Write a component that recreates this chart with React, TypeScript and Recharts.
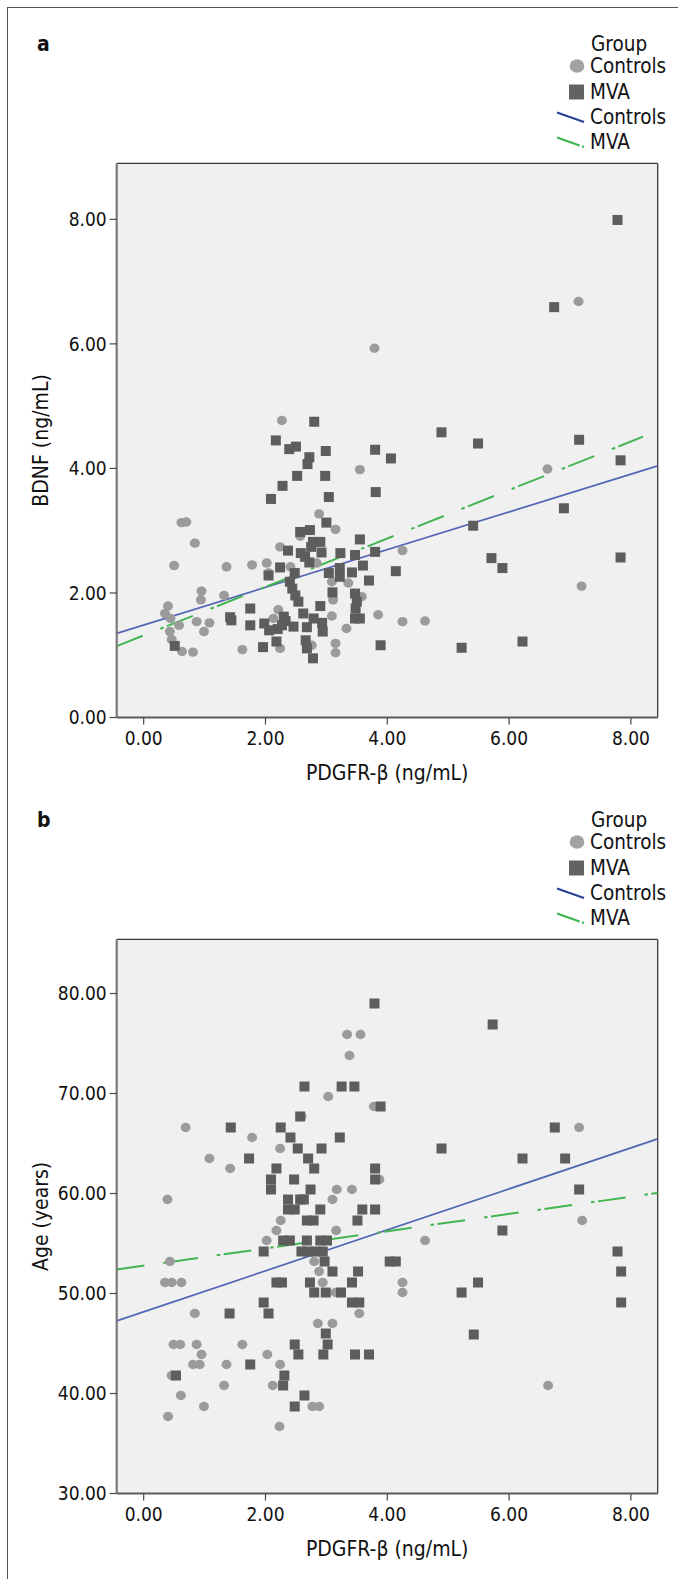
import React from 'react';
import { ScatterChart, Scatter, XAxis, YAxis, CartesianGrid, ReferenceLine } from 'recharts';

const FONT = "'Liberation Sans Narrow', 'Arial Narrow', 'DejaVu Sans Condensed', 'Liberation Sans', sans-serif";

// ---- axes ----
const xTicks = [0, 2, 4, 6, 8];
const xDomain: [number, number] = [-0.443, 8.44];
const bdnfTicks = [0, 2, 4, 6, 8];
const bdnfDomain: [number, number] = [0, 8.9];
const ageTicks = [30, 40, 50, 60, 70, 80];
const ageDomain: [number, number] = [30, 85.42];

// ---- panel a: PDGFR-beta vs BDNF ----
const controlsBDNF: [number, number][] = [
  [2.27, 4.77], [3.55, 3.98], [0.62, 3.13], [0.70, 3.14], [0.84, 2.80], [2.88, 3.27], [3.15, 3.02],
  [0.50, 2.44], [1.36, 2.42], [1.78, 2.45], [2.02, 2.48], [2.24, 2.74], [2.41, 2.42], [2.57, 2.91],
  [2.84, 2.48], [0.95, 2.03], [0.94, 1.89], [1.32, 1.96], [0.40, 1.79], [0.35, 1.67], [0.44, 1.59],
  [0.58, 1.48], [0.87, 1.54], [1.08, 1.52], [0.99, 1.38], [0.43, 1.38], [0.46, 1.25], [0.63, 1.06],
  [0.81, 1.05], [1.62, 1.09], [2.24, 1.11], [2.13, 1.59], [2.21, 1.73], [2.05, 2.32], [2.76, 1.16],
  [3.09, 2.18], [3.11, 1.89], [3.33, 1.43], [3.36, 2.16], [3.58, 1.94], [3.15, 1.19], [3.15, 1.04],
  [3.09, 1.63], [3.85, 1.65], [4.25, 2.68], [4.25, 1.54], [4.62, 1.55], [6.63, 3.99], [7.19, 2.11],
  [3.79, 5.93], [7.14, 6.68],
];
const mvaBDNF: [number, number][] = [
  [7.78, 7.99], [6.74, 6.59], [4.89, 4.58], [5.49, 4.40], [3.80, 4.30], [4.06, 4.16], [7.15, 4.46],
  [7.83, 4.13], [3.81, 3.62], [6.90, 3.36], [5.41, 3.08], [3.55, 2.86], [3.80, 2.66], [3.60, 2.44],
  [4.14, 2.35], [3.70, 2.20], [5.71, 2.56], [5.89, 2.40], [7.83, 2.57], [3.55, 1.59], [3.89, 1.16],
  [5.22, 1.12], [6.22, 1.22], [2.80, 4.75], [2.17, 4.45], [2.39, 4.31], [2.50, 4.35], [2.99, 4.28],
  [2.72, 4.18], [2.69, 4.07], [2.52, 3.88], [2.98, 3.88], [2.28, 3.72], [2.09, 3.51], [3.04, 3.54],
  [3.00, 3.13], [2.57, 2.98], [2.73, 3.01], [2.78, 2.82], [2.90, 2.82], [2.75, 2.74], [2.37, 2.68],
  [2.58, 2.64], [2.92, 2.65], [2.65, 2.58], [2.72, 2.49], [3.23, 2.64], [3.47, 2.61], [3.04, 2.32],
  [3.22, 2.40], [3.42, 2.33], [3.22, 2.26], [2.05, 2.28], [2.24, 2.41], [2.48, 2.32], [2.40, 2.18],
  [2.44, 2.07], [2.49, 1.96], [2.54, 1.86], [3.10, 2.01], [3.47, 1.99], [3.50, 1.86], [3.48, 1.75],
  [2.90, 1.79], [2.62, 1.67], [3.47, 1.59], [1.75, 1.75], [1.42, 1.61], [1.44, 1.56], [1.75, 1.48],
  [1.98, 1.51], [2.06, 1.40], [2.20, 1.42], [2.27, 1.48], [2.33, 1.55], [2.30, 1.62], [2.46, 1.46],
  [2.68, 1.45], [2.79, 1.59], [2.93, 1.52], [2.94, 1.38], [2.18, 1.22], [1.96, 1.13], [2.66, 1.24],
  [2.68, 1.11], [2.78, 0.95], [0.51, 1.15],
];
const fitControlsBDNF: [number, number][] = [[-0.443, 1.35], [8.44, 4.04]];
const fitMvaBDNF: [number, number][] = [[-0.443, 1.146], [8.2, 4.51]];

// ---- panel b: PDGFR-beta vs Age ----
const controlsAge: [number, number][] = [
  [3.34, 75.9], [3.56, 75.9], [3.38, 73.8], [3.03, 69.7], [3.78, 68.7], [2.59, 67.7], [0.69, 66.6],
  [1.78, 65.6], [2.24, 64.5], [1.08, 63.5], [1.42, 62.5], [0.39, 59.4], [3.17, 60.4], [3.42, 60.4],
  [3.10, 59.4], [3.87, 61.4], [2.25, 57.3], [2.18, 56.3], [3.16, 56.3], [2.02, 55.3], [0.43, 53.2],
  [2.80, 53.2], [2.88, 52.2], [0.35, 51.1], [0.46, 51.1], [0.62, 51.1], [2.94, 51.1], [3.15, 50.1],
  [0.84, 48.0], [3.54, 48.0], [2.86, 47.0], [3.10, 47.0], [0.49, 44.9], [0.60, 44.9], [0.87, 44.9],
  [1.62, 44.9], [0.95, 43.9], [2.03, 43.9], [0.81, 42.9], [0.92, 42.9], [1.36, 42.9], [2.24, 42.9],
  [0.46, 41.8], [1.32, 40.8], [2.12, 40.8], [0.61, 39.8], [0.99, 38.7], [2.77, 38.7], [2.88, 38.7],
  [0.40, 37.7], [2.23, 36.7], [7.15, 66.6], [7.20, 57.3], [4.62, 55.3], [4.25, 51.1], [4.25, 50.1],
  [6.64, 40.8],
];
const mvaAge: [number, number][] = [
  [3.79, 79.0], [2.64, 70.7], [3.25, 70.7], [3.46, 70.7], [3.89, 68.7], [2.57, 67.7], [1.43, 66.6],
  [2.25, 66.6], [2.41, 65.6], [1.73, 63.5], [2.53, 64.5], [2.70, 63.5], [2.92, 64.5], [3.22, 65.6],
  [2.18, 62.5], [2.80, 62.5], [2.09, 61.4], [2.47, 61.4], [2.09, 60.4], [2.74, 60.4], [3.80, 62.5],
  [3.80, 61.4], [2.37, 59.4], [2.57, 59.4], [2.63, 59.4], [2.37, 58.4], [2.48, 58.4], [2.90, 58.4],
  [3.59, 58.4], [3.80, 58.4], [2.68, 57.3], [2.79, 57.3], [3.51, 57.3], [2.29, 55.3], [2.40, 55.3],
  [2.68, 55.3], [2.90, 55.3], [3.01, 55.3], [1.97, 54.2], [2.59, 54.2], [2.70, 54.2], [2.83, 54.2],
  [2.94, 54.2], [2.97, 53.2], [3.10, 52.2], [3.52, 52.2], [2.18, 51.1], [2.27, 51.1], [2.73, 51.1],
  [3.42, 51.1], [2.80, 50.1], [2.99, 50.1], [3.24, 50.1], [1.97, 49.1], [3.42, 49.1], [3.54, 49.1],
  [1.41, 48.0], [2.05, 48.0], [2.99, 46.0], [2.48, 44.9], [3.02, 44.9], [2.54, 43.9], [2.95, 43.9],
  [3.47, 43.9], [3.70, 43.9], [1.75, 42.9], [0.53, 41.8], [2.31, 41.8], [2.29, 40.8], [2.64, 39.8],
  [2.48, 38.7], [5.73, 76.9], [6.75, 66.6], [4.89, 64.5], [6.22, 63.5], [6.92, 63.5], [7.15, 60.4],
  [5.89, 56.3], [7.78, 54.2], [4.04, 53.2], [4.14, 53.2], [7.84, 52.2], [5.49, 51.1], [5.22, 50.1],
  [7.84, 49.1], [5.42, 45.9],
];
const fitControlsAge: [number, number][] = [[-0.443, 47.26], [8.44, 65.46]];
const fitMvaAge: [number, number][] = [[-0.443, 52.4], [8.44, 60.06]];

// ---- styles ----
const CIRCLE_FILL = '#9b9b9b';
const SQUARE_FILL = '#5d5d5d';
const BLUE = '#5166b4';
const GREEN = '#43b552';
const GREEN_DASH = '28 19 3.5 3.5';

const toPts = (arr: [number, number][]) => arr.map(([x, y]) => ({ x, y }));
const fmt = (v: number) => v.toFixed(2);

const CircleDot = (p: any) => <ellipse cx={p.cx} cy={p.cy} rx={5} ry={4.7} fill={CIRCLE_FILL} />;
const SquareDot = (p: any) => <rect x={p.cx - 5} y={p.cy - 5} width={10} height={10} fill={SQUARE_FILL} />;

const CHART_W = 678;
const CHART_H = 790;
const MARGIN = { top: 163.3, right: 20.3, left: 0, bottom: 2.5 };

function Legend({ letter }: { letter: string }) {
  const t = { fontFamily: FONT, fontSize: 20.5, fill: '#111' } as const;
  return (
    <svg width={678} height={160} style={{ position: 'absolute', left: 0, top: 0 }}>
      <text x={37} y={51} style={{ ...t, fontWeight: 700, fontSize: 21 }}>{letter}</text>
      <text x={591} y={43.5} dominantBaseline="central" style={t}>Group</text>
      <ellipse cx={577} cy={66} rx={7.3} ry={6.8} fill="#a2a2a2" />
      <text x={590} y={66} dominantBaseline="central" style={t}>Controls</text>
      <rect x={569} y={84.5} width={15} height={15} fill="#626262" />
      <text x={590} y={92} dominantBaseline="central" style={t}>MVA</text>
      <line x1={557} y1={112.5} x2={584} y2={122} stroke="#2b3f95" strokeWidth={2} />
      <text x={590} y={117} dominantBaseline="central" style={t}>Controls</text>
      <line x1={557} y1={137.5} x2={584} y2={147} stroke="#3cb54a" strokeWidth={2} strokeDasharray="24 2.5 2.5 20" />
      <text x={590} y={142} dominantBaseline="central" style={t}>MVA</text>
    </svg>
  );
}

type PanelProps = {
  top: number;
  letter: string;
  yLabel: string;
  yDomain: [number, number];
  yTicks: number[];
  controls: [number, number][];
  mva: [number, number][];
  fitC: [number, number][];
  fitM: [number, number][];
};

function Panel({ top, letter, yLabel, yDomain, yTicks, controls, mva, fitC, fitM }: PanelProps) {
  const tickStyle = { fontFamily: FONT, fontSize: 19, fill: '#111' };
  const labelStyle = { fontFamily: FONT, fontSize: 21, fill: '#111' };
  return (
    <div style={{ position: 'absolute', left: 0, top, width: CHART_W, height: CHART_H }}>
      <ScatterChart width={CHART_W} height={CHART_H} margin={MARGIN}>
        <CartesianGrid fill="#f0f0f0" fillOpacity={1} stroke="none" horizontal={false} vertical={false} />
        <XAxis
          type="number"
          dataKey="x"
          domain={xDomain}
          ticks={xTicks}
          allowDataOverflow
          tickFormatter={fmt}
          height={70}
          tickSize={7}
          tickMargin={7}
          tick={tickStyle}
          axisLine={{ stroke: '#5a5a5a', strokeWidth: 2 }}
          tickLine={{ stroke: '#444', strokeWidth: 1.2 }}
          label={{ value: 'PDGFR-β (ng/mL)', position: 'center', dy: 20, style: labelStyle }}
        />
        <YAxis
          type="number"
          dataKey="y"
          domain={yDomain}
          ticks={yTicks}
          allowDataOverflow
          tickFormatter={fmt}
          width={116.7}
          tickSize={7}
          tickMargin={3}
          tick={tickStyle}
          axisLine={{ stroke: '#7a7a7a', strokeWidth: 2.2 }}
          tickLine={{ stroke: '#444', strokeWidth: 1.2 }}
          label={{ value: yLabel, angle: -90, position: 'center', dx: -18, style: labelStyle }}
        />
        <ReferenceLine y={yDomain[1]} stroke="#3a3a3a" strokeWidth={1.3} />
        <ReferenceLine x={xDomain[1]} stroke="#3a3a3a" strokeWidth={1.3} />
        <Scatter name="Controls" data={toPts(controls)} shape={CircleDot} isAnimationActive={false} />
        <Scatter name="MVA" data={toPts(mva)} shape={SquareDot} isAnimationActive={false} />
        <ReferenceLine
          segment={fitC.map(([x, y]) => ({ x, y }))}
          stroke={BLUE}
          strokeWidth={1.7}
          ifOverflow="hidden"
        />
        <ReferenceLine
          segment={fitM.map(([x, y]) => ({ x, y }))}
          stroke={GREEN}
          strokeWidth={2}
          strokeDasharray={GREEN_DASH}
          ifOverflow="hidden"
        />
      </ScatterChart>
      <Legend letter={letter} />
    </div>
  );
}

export default function App() {
  return (
    <div
      style={{
        position: 'absolute',
        left: 0,
        top: 0,
        width: 678,
        height: 1579,
        background: '#fff',
        overflow: 'hidden',
      }}
    >
      <div
        style={{
          position: 'absolute',
          left: 7,
          top: 6.5,
          width: 700,
          height: 1600,
          borderLeft: '1.6px solid #555',
          borderTop: '1.6px solid #555',
        }}
      />
      <Panel
        top={0}
        letter="a"
        yLabel="BDNF (ng/mL)"
        yDomain={bdnfDomain}
        yTicks={bdnfTicks}
        controls={controlsBDNF}
        mva={mvaBDNF}
        fitC={fitControlsBDNF}
        fitM={fitMvaBDNF}
      />
      <Panel
        top={775.8}
        letter="b"
        yLabel="Age (years)"
        yDomain={ageDomain}
        yTicks={ageTicks}
        controls={controlsAge}
        mva={mvaAge}
        fitC={fitControlsAge}
        fitM={fitMvaAge}
      />
    </div>
  );
}
